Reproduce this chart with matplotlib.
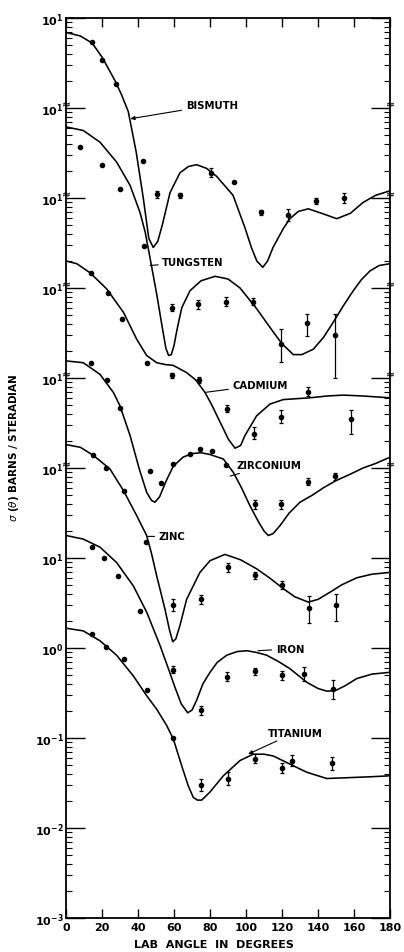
import numpy as np
import matplotlib
matplotlib.use("Agg")
import matplotlib.pyplot as plt
from matplotlib.ticker import FixedLocator, FixedFormatter, LogLocator, NullFormatter
from matplotlib.transforms import blended_transform_factory

# ---------------- data (angles in degrees, values as log10 of plotted, offset cross-section) ----
bi_fit_x = [0, 8, 14.6, 20.2, 27.6, 31, 34.6, 39, 43, 46, 48.5, 51, 53.5, 57.8, 63.3, 68, 72.6, 78, 83.7,
            92.8, 99.4, 103, 106, 109.3, 112, 115, 120.7, 124.4, 129, 134.6, 142, 150.4, 158, 165, 172, 180]
bi_fit_log = [6.84, 6.80, 6.72, 6.56, 6.29, 6.14, 5.96, 5.51, 4.99, 4.55, 4.45, 4.52, 4.70, 5.06, 5.28, 5.35,
              5.37, 5.33, 5.24, 5.03, 4.67, 4.45, 4.30, 4.23, 4.30, 4.45, 4.66, 4.77, 4.85, 4.88, 4.83,
              4.77, 4.83, 4.95, 5.03, 5.08]
bi_x = [14.6, 20.2, 27.6, 43, 50.4, 63.3, 80.4, 93.3, 108.3, 123.5, 138.7, 154.3]
bi_log = [6.73, 6.53, 6.27, 5.41, 5.04, 5.03, 5.28, 5.18, 4.84, 4.81, 4.97, 5.00]
bi_lo = [0, 0, 0, 0, 0.04, 0.03, 0.05, 0, 0.03, 0.065, 0.035, 0.06]
bi_hi = [0, 0, 0, 0, 0.04, 0.03, 0.05, 0, 0.03, 0.065, 0.035, 0.06]

w_fit_x = [0, 9.6, 18.9, 28.1, 35.6, 41.1, 44, 47, 50.4, 53.5, 55.5, 57, 58.5, 60, 61.7, 64.3, 68.9,
           75, 82.8, 90, 96.7, 105.9, 115.2, 120, 126.3, 131, 137.4, 143, 148.5, 154, 159.6, 164,
           168.9, 174, 180]
w_fit_log = [5.79, 5.75, 5.62, 5.40, 5.14, 4.84, 4.62, 4.30, 3.93, 3.56, 3.33, 3.25, 3.26, 3.36, 3.54,
             3.78, 3.97, 4.08, 4.13, 4.10, 4.00, 3.77, 3.51, 3.38, 3.26, 3.26, 3.32, 3.45, 3.62, 3.80,
             3.97, 4.09, 4.19, 4.25, 4.27]
w_x = [7.8, 20.2, 30, 43.5, 58.7, 73.5, 88.9, 104, 119.3, 134, 149.3]
w_log = [5.57, 5.37, 5.10, 4.47, 3.78, 3.82, 3.85, 3.85, 3.38, 3.61, 3.48]
w_lo = [0, 0, 0, 0, 0.04, 0.05, 0.05, 0.04, 0.20, 0.14, 0.48]
w_hi = [0, 0, 0, 0, 0.04, 0.05, 0.05, 0.04, 0.16, 0.10, 0.23]

cd_fit_x = [0, 6, 13.3, 22.6, 31.9, 39.3, 44.8, 50.4, 55, 59.6, 67, 72, 77.2, 81, 85.6, 90.2, 93.9,
            97, 99.4, 105.9, 113.3, 120.7, 128, 135.6, 145, 154, 165, 180]
cd_fit_log = [4.30, 4.27, 4.17, 3.99, 3.73, 3.43, 3.25, 3.17, 3.15, 3.14, 3.06, 2.98, 2.84, 2.70, 2.51,
              2.32, 2.22, 2.25, 2.36, 2.58, 2.71, 2.76, 2.77, 2.78, 2.80, 2.81, 2.80, 2.78]
cd_x = [13.7, 23.1, 30.9, 44.8, 59.1, 74.1, 89.3, 104.6, 119.3, 134.6, 158.1]
cd_log = [4.17, 3.94, 3.66, 3.17, 3.03, 2.98, 2.66, 2.38, 2.57, 2.85, 2.54]
cd_lo = [0, 0, 0, 0, 0.03, 0.03, 0.04, 0.06, 0.075, 0.05, 0.16]
cd_hi = [0, 0, 0, 0, 0.03, 0.03, 0.04, 0.08, 0.075, 0.05, 0.10]

zr_fit_x = [0, 9.6, 18.9, 26.3, 30, 35.6, 40.7, 44.8, 47.5, 49.4, 52, 55.5, 59.6, 65, 70, 75, 80,
            87.4, 93, 97.5, 102.2, 107, 110, 112.4, 115, 118.9, 124, 130, 137, 143, 150, 157.8, 165,
            172, 180]
zr_fit_log = [3.19, 3.17, 3.04, 2.84, 2.69, 2.36, 1.99, 1.73, 1.64, 1.62, 1.68, 1.85, 2.02, 2.12, 2.16,
              2.17, 2.15, 2.10, 1.95, 1.78, 1.58, 1.40, 1.30, 1.25, 1.27, 1.36, 1.50, 1.62, 1.70, 1.78,
              1.86, 1.93, 2.00, 2.05, 2.12]
zr_x = [13.7, 23, 30, 46.7, 52.6, 59.3, 68.9, 74.4, 80.9, 88.9, 105, 119.4, 134.3, 149.4]
zr_log = [3.17, 2.98, 2.67, 1.97, 1.83, 2.04, 2.16, 2.21, 2.19, 2.03, 1.60, 1.60, 1.85, 1.91]
zr_lo = [0, 0, 0, 0, 0, 0, 0, 0, 0, 0, 0.05, 0.05, 0.04, 0.04]
zr_hi = [0, 0, 0, 0, 0, 0, 0, 0, 0, 0, 0.05, 0.05, 0.04, 0.04]

zn_fit_x = [0, 8, 15.2, 24.4, 31.9, 39.3, 44.8, 47.5, 50.4, 55, 57.5, 59.3, 61, 63.3, 67, 74.4, 80,
            88.3, 97, 105.9, 113, 120.7, 127, 134.6, 140, 146.7, 153, 161.5, 170, 180]
zn_fit_log = [2.26, 2.23, 2.14, 1.99, 1.75, 1.47, 1.25, 1.05, 0.80, 0.43, 0.20, 0.07, 0.10, 0.25, 0.54,
              0.84, 0.97, 1.04, 0.98, 0.88, 0.78, 0.66, 0.57, 0.51, 0.54, 0.62, 0.70, 0.78, 0.82, 0.84]
zn_x = [14.8, 22.2, 32.2, 44.4, 59.3, 74.8, 89.8, 105, 120.2, 135, 150]
zn_log = [2.14, 2.00, 1.74, 1.18, 0.48, 0.54, 0.90, 0.81, 0.70, 0.44, 0.48]
zn_lo = [0, 0, 0, 0, 0.065, 0.05, 0.05, 0.04, 0.045, 0.16, 0.18]
zn_hi = [0, 0, 0, 0, 0.065, 0.05, 0.05, 0.04, 0.045, 0.14, 0.12]

fe_fit_x = [0, 9.6, 18.9, 28.1, 37.4, 44.8, 52.2, 56, 60.6, 64, 67.6, 70, 72.6, 76, 80, 84, 89.3, 95,
            100.4, 106, 111.5, 118, 124.4, 133.7, 140, 145, 150, 155, 161.5, 170, 180]
fe_fit_log = [1.25, 1.21, 1.12, 0.95, 0.69, 0.40, 0.03, -0.18, -0.44, -0.62, -0.72, -0.69, -0.58,
              -0.40, -0.27, -0.16, -0.08, -0.04, -0.03, -0.05, -0.08, -0.15, -0.23, -0.38, -0.45,
              -0.48, -0.47, -0.42, -0.34, -0.29, -0.27]
fe_x = [14.3, 21.3, 28.7, 41.1, 59.3, 74.8, 89.6, 105, 119.8, 132.2, 148.1]
fe_log = [1.12, 1.00, 0.80, 0.41, -0.24, -0.69, -0.32, -0.26, -0.30, -0.29, -0.46]
fe_lo = [0, 0, 0, 0, 0.04, 0.05, 0.05, 0.04, 0.05, 0.08, 0.11]
fe_hi = [0, 0, 0, 0, 0.04, 0.05, 0.05, 0.04, 0.05, 0.08, 0.11]

ti_fit_x = [0, 9.6, 18.9, 28.1, 37.4, 44.8, 50.4, 55.9, 59.6, 64.3, 67.9, 70.7, 73, 75.4, 80, 87.4,
            96.7, 104, 110, 115.2, 124.4, 133.7, 144.8, 157.8, 170, 180]
ti_fit_log = [0.22, 0.19, 0.08, -0.08, -0.31, -0.53, -0.68, -0.86, -1.01, -1.31, -1.53, -1.66, -1.69,
              -1.69, -1.60, -1.42, -1.25, -1.18, -1.18, -1.20, -1.29, -1.38, -1.45, -1.44, -1.43, -1.42]
ti_x = [14.6, 22, 32.2, 44.8, 59.6, 75, 90.2, 105, 119.8, 125.4, 147.9]
ti_log = [0.16, 0.01, -0.12, -0.47, -1.00, -1.52, -1.45, -1.23, -1.33, -1.25, -1.28]
ti_lo = [0, 0, 0, 0, 0, 0.065, 0.07, 0.05, 0.055, 0.06, 0.07]
ti_hi = [0, 0, 0, 0, 0, 0.065, 0.07, 0.05, 0.055, 0.06, 0.07]

# curve labels: name, text position (deg, log10), leader end (deg, log10), arrow head?
label_names = ["BISMUTH", "TUNGSTEN", "CADMIUM", "ZIRCONIUM", "ZINC", "IRON", "TITANIUM"]
label_text_x = [66.5, 53.5, 92.5, 94.5, 51.5, 116.5, 112.0]
label_text_log = [6.03, 4.29, 2.92, 2.03, 1.24, -0.01, -0.94]
label_tip_x = [35.6, 46.7, 77.2, 91.1, 45.6, 106.7, 101.1]
label_tip_log = [5.88, 4.25, 2.84, 1.91, 1.24, -0.03, -1.18]
label_arrow = [True, False, False, False, False, False, True]

x_ticks = [0, 20, 40, 60, 80, 100, 120, 140, 160, 180]
y_decades = [-3, -2, -1, 0, 1, 2, 3, 4, 5, 6, 7]
y_tick_labels = [r"$\mathbf{10^{-3}}$", r"$\mathbf{10^{-2}}$", r"$\mathbf{10^{-1}}$", r"$\mathbf{10^{0}}$",
                 r"$\mathbf{10^{1}}$", r"$\mathbf{10^{1}}$", r"$\mathbf{10^{1}}$", r"$\mathbf{10^{1}}$",
                 r"$\mathbf{10^{1}}$", r"$\mathbf{10^{1}}$", r"$\mathbf{10^{1}}$"]
break_decades = [2, 3, 4, 5, 6]

# ---------------- figure ----------------
plt.rcParams['font.family'] = ['DejaVu Sans']
fig = plt.figure(figsize=(4.04, 9.53), dpi=100)
ax = fig.add_axes([66 / 404, 34 / 953, 324 / 404, 900 / 953])
ax.set_yscale('log')
ax.set_xlim(0, 180)
ax.set_ylim(1e-3, 1e7)

fits = [(bi_fit_x, bi_fit_log), (w_fit_x, w_fit_log), (cd_fit_x, cd_fit_log), (zr_fit_x, zr_fit_log),
        (zn_fit_x, zn_fit_log), (fe_fit_x, fe_fit_log), (ti_fit_x, ti_fit_log)]
for fx, fl in fits:
    ax.plot(fx, 10 ** np.array(fl), color='black', lw=1.15, solid_capstyle='round',
            solid_joinstyle='round')

pts = [(bi_x, bi_log, bi_lo, bi_hi), (w_x, w_log, w_lo, w_hi), (cd_x, cd_log, cd_lo, cd_hi),
       (zr_x, zr_log, zr_lo, zr_hi), (zn_x, zn_log, zn_lo, zn_hi), (fe_x, fe_log, fe_lo, fe_hi),
       (ti_x, ti_log, ti_lo, ti_hi)]
for px, pl, lo, hi in pts:
    pl = np.array(pl)
    y = 10 ** pl
    ylo = y - 10 ** (pl - np.array(lo))
    yhi = 10 ** (pl + np.array(hi)) - y
    ax.errorbar(px, y, yerr=[ylo, yhi], fmt='o', ms=3.0, color='black', ecolor='black',
                elinewidth=0.9, capsize=1.6, capthick=0.9)

for name, tx, tl, hx, hl, arr in zip(label_names, label_text_x, label_text_log,
                                     label_tip_x, label_tip_log, label_arrow):
    ax.annotate(name, xy=(hx, 10 ** hl), xytext=(tx, 10 ** tl), fontsize=7.3,
                va='center', ha='left', fontweight='bold',
                arrowprops=dict(arrowstyle='-|>,head_length=0.35,head_width=0.15' if arr else '-',
                                color='black', lw=0.8, shrinkA=1, shrinkB=0))

# axes styling
for s in ax.spines.values():
    s.set_linewidth(1.3)
ax.xaxis.set_major_locator(FixedLocator(x_ticks))
ax.set_xticklabels([str(t) for t in x_ticks], fontsize=8, fontweight='bold')
ax.yaxis.set_major_locator(FixedLocator([10.0 ** k for k in y_decades]))
ax.yaxis.set_major_formatter(FixedFormatter(y_tick_labels))
ax.yaxis.set_minor_locator(LogLocator(base=10, subs=range(2, 10), numticks=30))
ax.yaxis.set_minor_formatter(NullFormatter())
ax.tick_params(axis='x', which='major', direction='in', length=6.5, width=1.0, top=True,
               bottom=True, pad=3)
ax.tick_params(axis='y', which='major', direction='in', length=14, width=1.0, left=True,
               right=True, pad=1.5, labelsize=8)
ax.tick_params(axis='y', which='minor', direction='in', length=4.5, width=0.8, left=True,
               right=True)

# axis break marks (small double strokes across the spines)
trans = blended_transform_factory(ax.transAxes, ax.transData)
for k in break_decades:
    for xa in (0, 1):
        ax.plot([xa], [10 ** (k + 0.05)], marker=r'$\approx$', ms=4.5, color='black',
                markeredgewidth=0.2, transform=trans, clip_on=False)

fig.text(14 / 404, 1 - 448 / 953, r"$\sigma$ ($\theta$) BARNS / STERADIAN", rotation=90,
         ha='center', va='center', fontsize=7.5, fontweight='bold')
fig.text(214 / 404, 1 - 945 / 953, "LAB  ANGLE  IN  DEGREES", ha='center', va='center',
         fontsize=8, fontweight='bold')

fig.savefig('out.png', dpi=100)
